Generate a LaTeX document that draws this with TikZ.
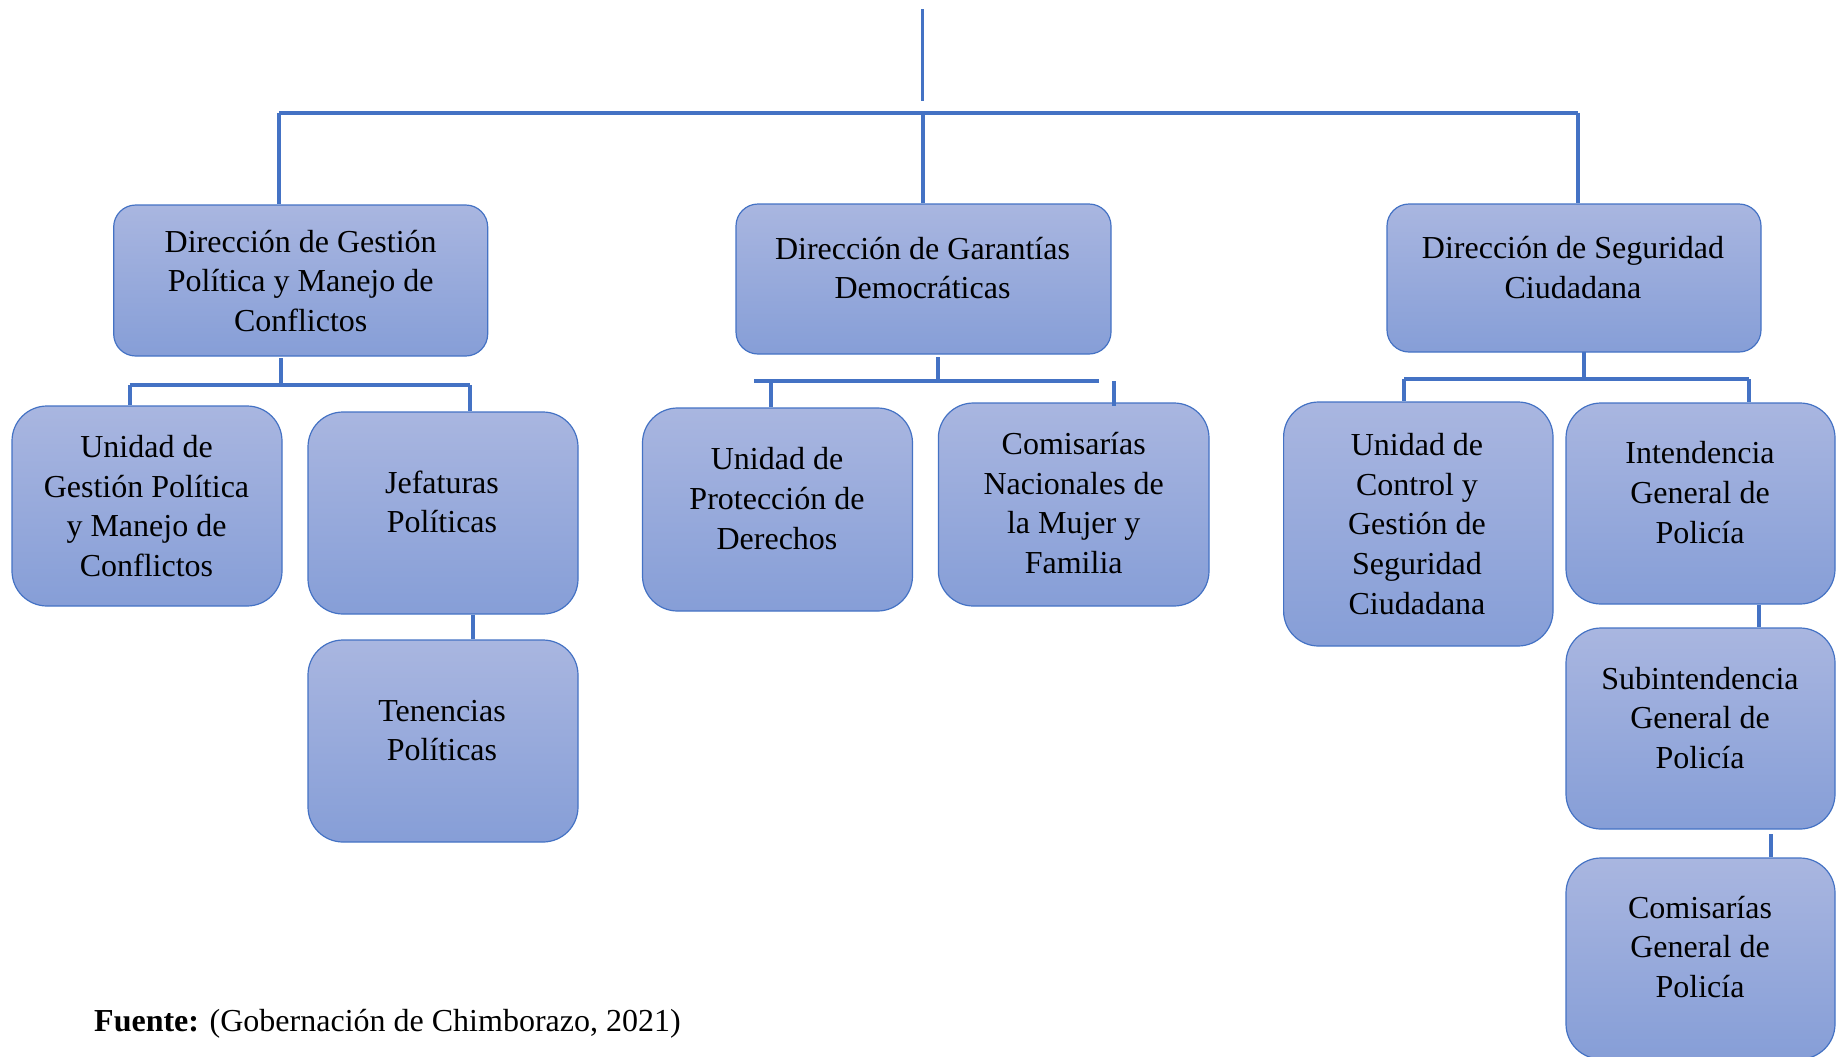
\documentclass[tikz,border=0pt]{standalone}
\usepackage{fontspec}
\setmainfont{Liberation Serif}
\definecolor{linkblue}{HTML}{4472C4}
\definecolor{boxtop}{RGB}{169,182,224}
\definecolor{boxbot}{RGB}{134,158,215}
\begin{document}
\begin{tikzpicture}[x=0.5pt,y=-0.5pt,
  orgbox/.style={draw=linkblue, line width=0.6pt, top color=boxtop, bottom color=boxbot,
    rounded corners=17.5pt, inner sep=0pt},
  headbox/.style={orgbox, rounded corners=11pt},
  label/.style={align=center, inner sep=0pt, text=black, font=\fontsize{16}{19.8}\selectfont},
  conn/.style={draw=linkblue, line width=2pt},
  thinconn/.style={draw=linkblue, line width=1.3pt}]
\useasboundingbox (0,0) rectangle (1838,1056);

% --- boxes: first level
\node[headbox, minimum width=187pt, minimum height=75.5pt] (dgp) at (300.7,280.5) {};
\node[headbox, minimum width=187.5pt, minimum height=75pt] (dgd) at (923.5,279) {};
\node[headbox, minimum width=187pt, minimum height=74pt] (dsc) at (1574,278) {};

% --- boxes: second level
\node[orgbox, minimum width=135pt, minimum height=100pt] (ugp) at (147,506) {};
\node[orgbox, minimum width=135pt, minimum height=101pt] (jef) at (443,513) {};
\node[orgbox, minimum width=135pt, minimum height=101pt] (ten) at (443,741) {};
\node[orgbox, minimum width=135pt, minimum height=101.5pt] (upd) at (777.5,509.5) {};
\node[orgbox, minimum width=135.3pt, minimum height=101.5pt] (cnm) at (1073.7,504.5) {};
\node[orgbox, minimum width=134.7pt, minimum height=122pt] (ucg) at (1418.3,524) {};
\node[orgbox, minimum width=134.5pt, minimum height=100.5pt] (igp) at (1700.5,503.5) {};
\node[orgbox, minimum width=134.5pt, minimum height=100.5pt] (sgp) at (1700.5,728.5) {};
\node[orgbox, minimum width=134.5pt, minimum height=100.5pt] (cgp) at (1700.5,958.5) {};

% --- box texts
\node[label] (tdgp) at (300.7,281) {Dirección de Gestión\\Política y Manejo de\\Conflictos};
\node[label] (tdgd) at (922.5,268) {Dirección de Garantías\\Democráticas};
\node[label] (tdsc) at (1573,267.5) {Dirección de Seguridad\\Ciudadana};
\node[label] (tugp) at (146.5,506) {Unidad de\\Gestión Política\\y Manejo de\\Conflictos};
\node[label] (tjef) at (442,502) {Jefaturas\\Políticas};
\node[label] (tten) at (442,730.5) {Tenencias\\Políticas};
\node[label] (tupd) at (777,498.5) {Unidad de\\Protección de\\Derechos};
\node[label] (tcnm) at (1073.7,503) {Comisarías\\Nacionales de\\la Mujer y\\Familia};
\node[label] (tucg) at (1417,524) {Unidad de\\Control y\\Gestión de\\Seguridad\\Ciudadana};
\node[label] (tigp) at (1700,492.5) {Intendencia\\General de\\Policía};
\node[label] (tsgp) at (1700,718) {Subintendencia\\General de\\Policía};
\node[label] (tcgp) at (1700,947) {Comisarías\\General de\\Policía};

% --- source line
\node[anchor=base west, inner sep=0pt, font=\fontsize{16}{19.8}\selectfont] (src) at (93.8,1031.5)
  {\textbf{Fuente:} (Gobernación de Chimborazo, 2021)};

% --- top connector and main bar
\coordinate (rootA) at (922.5,9);
\coordinate (rootB) at (922.5,101);
\coordinate (barL) at (279,112.5);
\coordinate (barM) at (922.5,112.5);
\coordinate (barR) at (1578,112.5);
\draw[thinconn] (rootA) -- (rootB);
\draw[conn] (barL) -- (barR);
\draw[conn] (barL) -- (barL |- dgp.north);
\draw[conn] (barM) -- (barM |- dgd.north);
\draw[conn] (barR) -- (barR |- dsc.north);

% --- branch under Gestión Política
\coordinate (gA) at (281,358);
\coordinate (gB) at (281,385);
\coordinate (gL) at (129.5,385);
\coordinate (gR) at (470,385);
\draw[conn] (gA) -- (gB);
\draw[conn] (gL) -- (gR);
\draw[conn] (gL) -- (gL |- ugp.north);
\draw[conn] (gR) -- (gR |- jef.north);
\draw[conn] (jef.south -| 473,0) -- (ten.north -| 473,0);

% --- branch under Garantías Democráticas
\coordinate (dA) at (937.5,357);
\coordinate (dB) at (937.5,380.7);
\coordinate (dL) at (754.4,380.7);
\coordinate (dR) at (1099,380.7);
\coordinate (dL2) at (771.4,380.7);
\coordinate (dR2) at (1113.5,381);
\draw[conn] (dA) -- (dB);
\draw[conn] (dL) -- (dR);
\draw[conn] (dL2) -- (dL2 |- upd.north);
\draw[conn] (dR2) -- ([yshift=-1.7pt]dR2 |- cnm.north);

% --- branch under Seguridad Ciudadana
\coordinate (sA) at (1584,352);
\coordinate (sB) at (1584,379.3);
\coordinate (sL) at (1404,379.3);
\coordinate (sR) at (1749,379.3);
\draw[conn] (sA) -- (sB);
\draw[conn] (sL) -- (sR);
\draw[conn] (sL) -- (sL |- ucg.north);
\draw[conn] (sR) -- (sR |- igp.north);
\draw[conn] (igp.south -| 1759,0) -- (sgp.north -| 1759,0);
\draw[conn] (1771,834) coordinate (cA) -- (cA |- cgp.north);
\end{tikzpicture}
\end{document}
